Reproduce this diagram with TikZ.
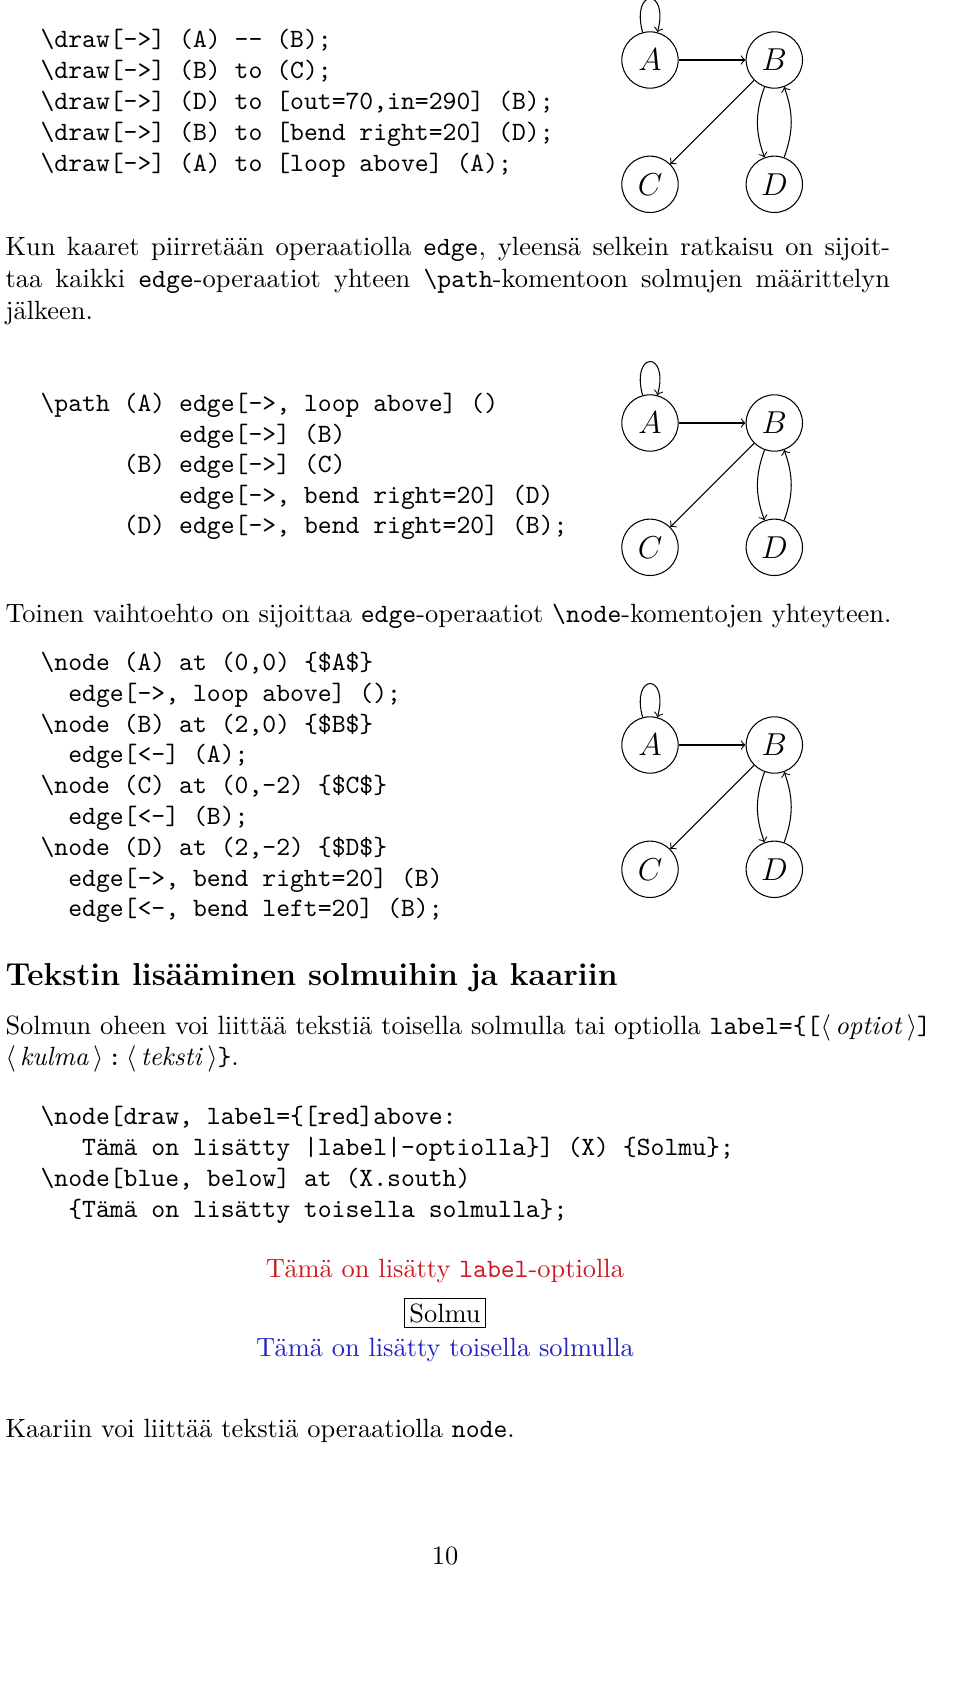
\documentclass[tikz,border=0pt]{standalone}
\usepackage{fontspec}
\usetikzlibrary{positioning}
\definecolor{labelred}{rgb}{0.80,0.10,0.12}
\definecolor{belowblue}{rgb}{0.12,0.14,0.75}
\tikzset{
  vertex/.style={circle, draw, minimum size=0.75cm, inner sep=0pt, font=\large},
  code/.style={anchor=base west, inner sep=0pt, font=\ttfamily},
  txt/.style={anchor=base west, inner sep=0pt},
}
\newcommand{\bs}{\textbackslash}
\newcommand{\graphquad}[2]{%
  \node[vertex] (A#1) at (650,#2) {$A$};
  \node[vertex, right=0.89cm of A#1] (B#1) {$B$};
  \node[vertex, below=0.89cm of A#1] (C#1) {$C$};
  \node[vertex, below=0.89cm of B#1] (D#1) {$D$};
  \draw[->] (A#1) -- (B#1);
  \draw[->] (B#1) to (C#1);
  \draw[->] (D#1) to [out=70,in=290] (B#1);
  \draw[->] (B#1) to [bend right=20] (D#1);
  \draw[->] (A#1) to [loop above] (A#1);
}
\begin{document}
\begin{tikzpicture}[x=0.0133cm, y=-0.0133cm]
\useasboundingbox (0,0) rectangle (960,1681);
% first example
\node[code] (l1) at (40,47) {\bs draw[->] (A) -- (B);};
\node[code] (l2) at (40,78) {\bs draw[->] (B) to (C);};
\node[code] (l3) at (40,109) {\bs draw[->] (D) to [out=70,in=290] (B);};
\node[code] (l4) at (40,140) {\bs draw[->] (B) to [bend right=20] (D);};
\node[code] (l5) at (40,171) {\bs draw[->] (A) to [loop above] (A);};
\graphquad{1}{60}
% paragraph
\node[txt] (p1) at (5,255) {\makebox[11.77cm][s]{Kun kaaret piirretään operaatiolla \texttt{edge}, yleensä selkein ratkaisu on sijoit-}};
\node[txt] (p2) at (5,287) {\makebox[11.77cm][s]{taa kaikki \texttt{edge}-operaatiot yhteen \texttt{\bs path}-komentoon solmujen määrittelyn}};
\node[txt] (p3) at (5,319) {jälkeen.};
% second example
\node[code] (m1) at (40,411) {\bs path (A) edge[->, loop above] ()};
\node[code] (m2) at (40,442) {\phantom{\bs path (A) }edge[->] (B)};
\node[code] (m3) at (40,472) {\phantom{\bs path }(B) edge[->] (C)};
\node[code] (m4) at (40,503) {\phantom{\bs path (B) }edge[->, bend right=20] (D)};
\node[code] (m5) at (40,533) {\phantom{\bs path }(D) edge[->, bend right=20] (B);};
\graphquad{2}{423}
\node[txt] (q1) at (5,622) {Toinen vaihtoehto on sijoittaa \texttt{edge}-operaatiot \texttt{\bs node}-komentojen yhteyteen.};
% third example
\node[code] (n1) at (40,670) {\bs node (A) at (0,0) \{\$A\$\}};
\node[code] (n2) at (40,701) {\phantom{xx}edge[->, loop above] ();};
\node[code] (n3) at (40,732) {\bs node (B) at (2,0) \{\$B\$\}};
\node[code] (n4) at (40,762) {\phantom{xx}edge[<-] (A);};
\node[code] (n5) at (40,793) {\bs node (C) at (0,-2) \{\$C\$\}};
\node[code] (n6) at (40,824) {\phantom{xx}edge[<-] (B);};
\node[code] (n7) at (40,855) {\bs node (D) at (2,-2) \{\$D\$\}};
\node[code] (n8) at (40,886) {\phantom{xx}edge[->, bend right=20] (B)};
\node[code] (n9) at (40,916) {\phantom{xx}edge[<-, bend left=20] (B);};
\graphquad{3}{745}
% heading
\node[txt, font=\large\bfseries] (h) at (5,985) {Tekstin lisääminen solmuihin ja kaariin};
\node[txt] (r1) at (5,1034) {Solmun oheen voi liittää tekstiä toisella solmulla tai optiolla \texttt{label=\{[}$\langle$\,\textit{optiot}\,$\rangle$\texttt{]}};
\node[txt] (r2) at (5,1065) {$\langle$\,\textit{kulma}\,$\rangle$\,\texttt{:}\,$\langle$\,\textit{teksti}\,$\rangle$\texttt{\}}.};
% fourth example
\node[code] (k1) at (40,1124) {\bs node[draw, label=\{[red]above:};
\node[code] (k2) at (40,1155) {\phantom{xxx}Tämä on lisätty |label|-optiolla\}] (X) \{Solmu\};};
\node[code] (k3) at (40,1186) {\bs node[blue, below] at (X.south)};
\node[code] (k4) at (40,1217) {\phantom{xx}\{Tämä on lisätty toisella solmulla\};};
\node[draw, inner sep=2pt] (X) at (445,1313) {Solmu};
\node[labelred, above=2pt of X] (Xl) {Tämä on lisätty \texttt{label}-optiolla};
\node[belowblue, below=0pt of X.south] (Xb) {Tämä on lisätty toisella solmulla};
\node[txt] (s1) at (5,1437) {Kaariin voi liittää tekstiä operaatiolla \texttt{node}.};
\node (page) at (445,1556) {10};
\end{tikzpicture}
\end{document}
